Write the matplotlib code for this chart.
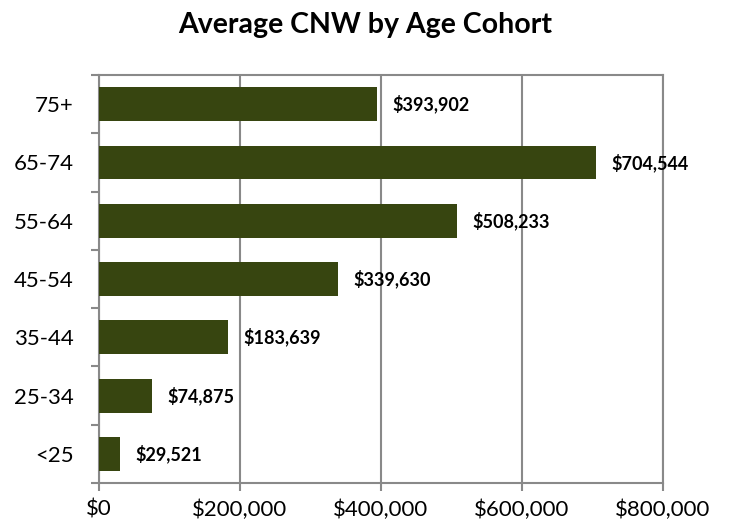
import matplotlib.pyplot as plt
from matplotlib.ticker import FuncFormatter

cohorts = ['<25', '25-34', '35-44', '45-54', '55-64', '65-74', '75+']
cnw = [29521, 74875, 183639, 339630, 508233, 704544, 393902]
xticks = [0, 200000, 400000, 600000, 800000]

plt.rcParams['font.family'] = ['Lato', 'DejaVu Sans']

fig = plt.figure(figsize=(7.31, 5.29), dpi=100)
ax = fig.add_axes([0.1354, 0.0869, 0.7716, 0.7713])

pos = range(len(cohorts))
ax.barh(pos, cnw, height=0.58, color='#374510', zorder=3)

for p, v in zip(pos, cnw):
    ax.annotate('${:,}'.format(v), (v, p), xytext=(11, 0), textcoords='offset points',
                va='center', ha='left', fontsize=13, fontweight='bold', zorder=4)

ax.set_xlim(0, 800000)
ax.set_ylim(-0.5, len(cohorts) - 0.5)
ax.set_xticks(xticks)
ax.xaxis.set_major_formatter(FuncFormatter(lambda x, _: '${:,.0f}'.format(x)))
ax.set_yticks(list(pos))
ax.set_yticklabels(cohorts)
# tick marks sit between categories on the y axis
ax.set_yticks([i - 0.5 for i in range(len(cohorts) + 1)], minor=True)
ax.tick_params(axis='y', which='major', length=0, pad=18, labelsize=16)
ax.tick_params(axis='y', which='minor', length=6, color='#898989', width=1.5)
ax.tick_params(axis='x', length=6, color='#898989', width=1.5, labelsize=16, pad=6)

ax.grid(axis='x', color='#898989', linewidth=1.5, zorder=0)
for s in ax.spines.values():
    s.set_color('#898989')
    s.set_linewidth(1.5)

fig.suptitle('Average CNW by Age Cohort', x=0.5, y=0.977, fontsize=20.5, fontweight='bold')

fig.savefig('out.png', dpi=100)
